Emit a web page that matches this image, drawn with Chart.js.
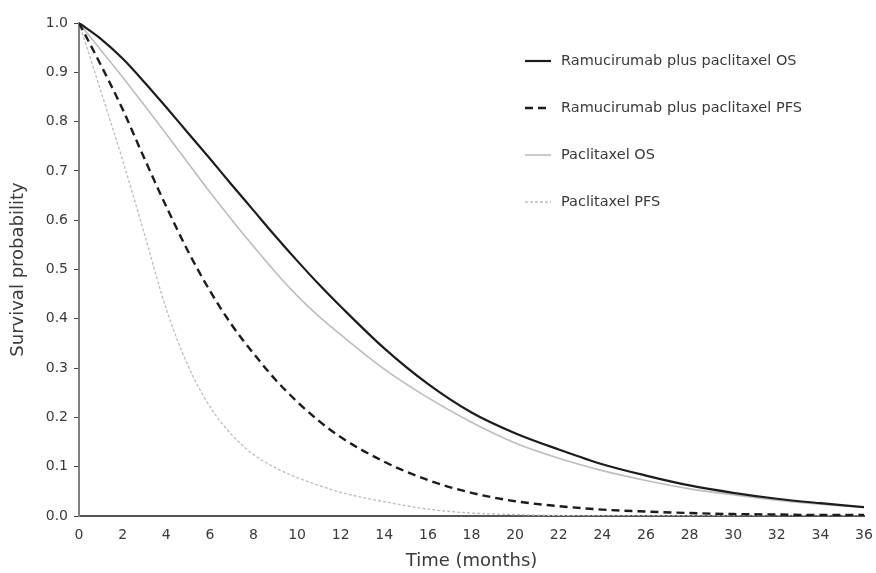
<!DOCTYPE html>
<html>
<head>
<meta charset="utf-8">
<script src="https://cdn.jsdelivr.net/npm/chart.js@4/dist/chart.umd.min.js"></script>
<style>
  html, body { margin: 0; padding: 0; background: #fff; }
  #wrap { width: 876px; height: 573px; }
</style>
</head>
<body>
<div id="wrap"><canvas id="survivalChart" width="876" height="573"></canvas></div>
<script>
const months = [0, 1, 2, 3, 4, 5, 6, 7, 8, 9, 10, 11, 12, 14, 16, 18, 20, 22, 24, 26, 28, 30, 32, 34, 36];

const seriesNames = [
  'Ramucirumab plus paclitaxel OS',
  'Ramucirumab plus paclitaxel PFS',
  'Paclitaxel OS',
  'Paclitaxel PFS'
];

const ramOS = [1.0, 0.968, 0.928, 0.88, 0.829, 0.777, 0.725, 0.672, 0.62, 0.568, 0.518, 0.47, 0.425,
  0.34, 0.268, 0.21, 0.168, 0.135, 0.105, 0.082, 0.062, 0.047, 0.035, 0.026, 0.018];
const ramPFS = [1.0, 0.915, 0.825, 0.725, 0.628, 0.537, 0.457, 0.388, 0.33, 0.277, 0.232, 0.193, 0.16,
  0.11, 0.073, 0.047, 0.03, 0.02, 0.013, 0.009, 0.006, 0.004, 0.003, 0.002, 0.002];
const pacOS = [1.0, 0.945, 0.89, 0.833, 0.775, 0.716, 0.657, 0.601, 0.547, 0.495, 0.447, 0.405, 0.368,
  0.298, 0.24, 0.19, 0.148, 0.117, 0.092, 0.072, 0.055, 0.043, 0.032, 0.024, 0.018];
const pacPFS = [1.0, 0.862, 0.722, 0.572, 0.42, 0.305, 0.222, 0.165, 0.125, 0.098, 0.078, 0.062, 0.048,
  0.029, 0.014, 0.006, 0.003, 0.001, 0, 0, 0, 0, 0, 0, 0];

const xTicks = [0, 2, 4, 6, 8, 10, 12, 14, 16, 18, 20, 22, 24, 26, 28, 30, 32, 34, 36];

const FONT = "'DejaVu Sans', 'Open Sans', sans-serif";
const TEXT = '#3a3a3a';

function toPoints(values) {
  return months.map((m, i) => ({ x: m, y: values[i] }));
}

// legend drawn inside the plot, top right, as in the figure
const insideLegend = {
  id: 'insideLegend',
  afterDraw(chart) {
    const ctx = chart.ctx;
    const rows = [61, 108, 155, 202];
    ctx.save();
    chart.data.datasets.forEach((ds, i) => {
      const y = rows[i];
      ctx.beginPath();
      ctx.strokeStyle = ds.borderColor;
      ctx.lineWidth = ds.borderWidth;
      ctx.setLineDash(ds.borderDash || []);
      ctx.moveTo(525, y);
      ctx.lineTo(551, y);
      ctx.stroke();
      ctx.setLineDash([]);
      ctx.fillStyle = TEXT;
      ctx.font = '14.5px ' + FONT;
      ctx.textBaseline = 'middle';
      ctx.fillText(ds.label, 561, y);
    });
    ctx.restore();
  }
};

const ctx = document.getElementById('survivalChart').getContext('2d');
const survivalChart = new Chart(ctx, {
  type: 'line',
  data: {
    datasets: [
      {
        label: seriesNames[0],
        data: toPoints(ramOS),
        borderColor: '#1c1c1c',
        borderWidth: 2.2,
      },
      {
        label: seriesNames[1],
        data: toPoints(ramPFS),
        borderColor: '#1c1c1c',
        borderWidth: 2.4,
        borderDash: [8, 5],
      },
      {
        label: seriesNames[2],
        data: toPoints(pacOS),
        borderColor: '#bdbdbd',
        borderWidth: 1.6,
      },
      {
        label: seriesNames[3],
        data: toPoints(pacPFS),
        borderColor: '#bdbdbd',
        borderWidth: 1.3,
        borderDash: [3, 2],
      },
    ],
  },
  options: {
    responsive: false,
    animation: false,
    parsing: false,
    elements: {
      point: { radius: 0 },
      line: { cubicInterpolationMode: 'monotone', fill: false },
    },
    layout: {
      padding: { left: 0, right: 12, top: 23, bottom: 0 },
    },
    scales: {
      x: {
        type: 'linear',
        min: 0,
        max: 36,
        afterBuildTicks: (axis) => {
          axis.ticks = xTicks.map(v => ({ value: v }));
        },
        afterFit: (axis) => {
          axis.height = 57;
          axis.paddingRight = 0;
          axis.paddingLeft = 0;
        },
        grid: { display: false, drawTicks: false },
        border: { display: true, color: '#555', width: 2 },
        ticks: {
          color: TEXT,
          padding: 11,
          maxRotation: 0,
          autoSkip: false,
          font: { family: FONT, size: 14 },
        },
        title: {
          display: true,
          text: 'Time (months)',
          color: TEXT,
          padding: { top: 0, bottom: 1 },
          font: { family: FONT, size: 18 },
        },
      },
      y: {
        type: 'linear',
        min: 0,
        max: 1,
        afterFit: (axis) => { axis.width = 79; },
        ticks: {
          stepSize: 0.1,
          color: TEXT,
          padding: 6,
          callback: (v) => v.toFixed(1),
          font: { family: FONT, size: 14 },
        },
        grid: {
          display: true,
          drawOnChartArea: false,
          drawTicks: true,
          tickLength: 5,
          color: '#444',
        },
        border: { display: true, color: '#808080', width: 2 },
        title: {
          display: true,
          text: 'Survival probability',
          color: TEXT,
          padding: { top: 8, bottom: 0 },
          font: { family: FONT, size: 18 },
        },
      },
    },
    plugins: {
      legend: { display: false },
      tooltip: { enabled: false },
    },
  },
  plugins: [insideLegend],
});
</script>
</body>
</html>
